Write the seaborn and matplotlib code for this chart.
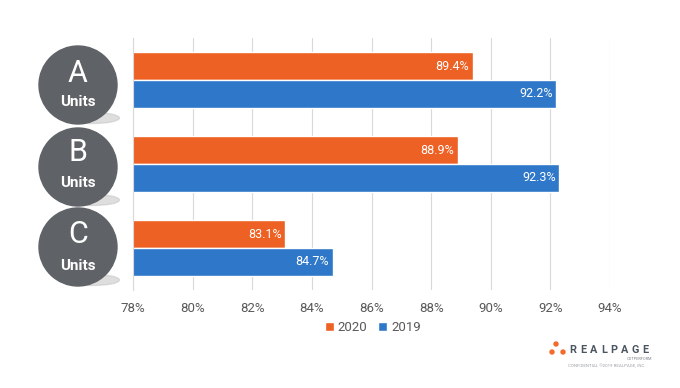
import matplotlib
matplotlib.use("Agg")
import matplotlib.pyplot as plt
import seaborn as sns
import pandas as pd
from matplotlib.patches import Circle, Ellipse

categories = ["A", "B", "C"]
years = ["2020", "2019"]
values_2020 = [89.4, 88.9, 83.1]
values_2019 = [92.2, 92.3, 84.7]
xticks = [78, 80, 82, 84, 86, 88, 90, 92, 94]

df = pd.DataFrame({
    "cat": categories * 2,
    "year": ["2020"] * 3 + ["2019"] * 3,
    "val": values_2020 + values_2019,
})

sns.set_theme(style="white")
plt.rcParams["font.family"] = ["Roboto", "DejaVu Sans"]

orange = "#EE6124"
blue = "#2F78C9"

fig = plt.figure(figsize=(6.8, 3.88), dpi=100)
ax = fig.add_axes([0.1956, 0.2526, 0.7015, 0.6494])

sns.barplot(data=df, y="cat", x="val", hue="year", hue_order=years,
            palette=[orange, blue], orient="h", width=0.66, ax=ax,
            saturation=1, legend=True)

ax.set_xlim(78, 94)
ax.set_ylim(2.5, -0.5)
ax.set_xticks(xticks)
ax.set_xticklabels([f"{t}%" for t in xticks], color="#595959", fontsize=9.5)
ax.tick_params(axis="x", length=0, pad=9)
ax.set_yticks([])
ax.set_xlabel("")
ax.set_ylabel("")
ax.grid(axis="x", color="#d9d9d9", linewidth=0.8)
ax.set_axisbelow(True)
for s in ["top", "right", "bottom"]:
    ax.spines[s].set_visible(False)
ax.spines["left"].set_color("#d9d9d9")
ax.spines["left"].set_linewidth(0.8)

for cont in ax.containers:
    for bar in cont:
        w = bar.get_width()
        ax.text(w - 0.12, bar.get_y() + bar.get_height() / 2, f"{w:.1f}%",
                ha="right", va="center", color="white", fontsize=9)

leg = ax.legend(loc="upper center", bbox_to_anchor=(0.503, -0.075), ncol=2,
                frameon=False, fontsize=9.5, handlelength=0.7, handleheight=0.7,
                handletextpad=0.3, columnspacing=0.8)
for t in leg.get_texts():
    t.set_color("#595959")

# Category circles (pixel positions in inches)
H = 3.88
centers = [(78, 85, 73, 102), (78, 167, 153, 183), (78, 247, 235, 266)]
for cat, (cx, cy, ly, uy) in zip(categories, centers):
    sh = Ellipse(((cx + 14) / 100, H - (cy + 33) / 100), 0.55, 0.11,
                 transform=fig.dpi_scale_trans, color="#c8c8c8", alpha=0.6, zorder=1)
    fig.add_artist(sh)
    c = Circle((cx / 100, H - cy / 100), 0.39, transform=fig.dpi_scale_trans,
               color="#5f6266", zorder=2)
    fig.add_artist(c)
    fig.text(cx / 680, 1 - ly / 388, cat, ha="center", va="center",
             color="white", fontsize=22, zorder=3)
    fig.text(cx / 680, 1 - uy / 388, "Units", ha="center", va="center",
             color="white", fontsize=11, fontweight="bold", zorder=3)

# Logo
for (dx, dy) in [(556, 344), (552, 352), (563, 352)]:
    fig.add_artist(Circle((dx / 100, H - dy / 100), 0.02,
                          transform=fig.dpi_scale_trans, color="#F26A2E"))
for i, ch in enumerate("REALPAGE"):
    fig.text((573 + i * 10.3) / 680, 1 - 350 / 388, ch, ha="center", va="center",
             color="#4a5560", fontsize=7.8, fontweight="bold")
fig.text(652 / 680, 1 - 359 / 388, "OUTPERFORM", ha="right", va="center",
         color="#7a8088", fontsize=2.8)
fig.text(607 / 680, 1 - 366 / 388, "CONFIDENTIAL ©2019 REALPAGE, INC.",
         ha="center", va="center", color="#9aa0a6", fontsize=3.2)

fig.savefig("out.png", dpi=100)
